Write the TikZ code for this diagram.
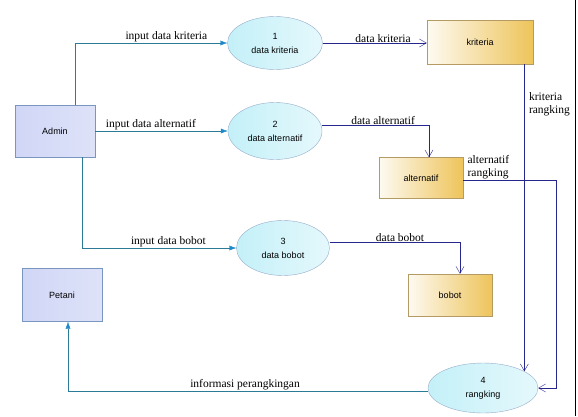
\documentclass[tikz,border=0pt]{standalone}
\usepackage{fontspec}
\setmainfont{Liberation Serif}
\setsansfont{Liberation Sans}
\usetikzlibrary{shapes.geometric,arrows.meta}

\definecolor{flowteal}{RGB}{42,122,152}
\definecolor{flowblue}{RGB}{30,136,200}
\definecolor{flownavy}{RGB}{38,38,140}
\definecolor{entfill}{RGB}{208,214,246}
\definecolor{entline}{RGB}{120,150,190}
\definecolor{procfill}{RGB}{196,240,248}
\definecolor{procline}{RGB}{150,172,200}
\definecolor{storegold}{RGB}{238,196,90}
\definecolor{storeline}{RGB}{180,155,100}

\begin{document}
\begin{tikzpicture}[x=1pt, y=-1pt,
    entity/.style={draw=entline, left color=entfill, right color=entfill!70,
      minimum width=80pt, minimum height=52pt, font=\sffamily\fontsize{9}{11}\selectfont},
    process/.style={ellipse, draw=procline, left color=procfill, right color=procfill!45,
      inner sep=0pt, align=center, font=\sffamily\fontsize{9}{14}\selectfont},
    store/.style={draw=storeline, left color=storegold!8, right color=storegold,
      font=\sffamily\fontsize{9}{11}\selectfont},
    inflow/.style={draw=flowteal, -{Latex[length=7pt,width=5pt,color=flowblue]}},
    dataflow/.style={draw=flownavy, -{Straight Barb[length=7pt,width=8pt]}},
    lbl/.style={font=\fontsize{11.5}{13}\selectfont, inner sep=0.5pt}]
      \useasboundingbox (0,0) rectangle (578,416);

      % external entities
      \node[entity] (admin) at (55,131) {Admin};
      \node[entity, minimum height=53pt] (petani) at (62,295) {Petani};

      % processes
      \node[process, minimum width=95pt, minimum height=53pt] (p1) at (275,43) {1\\data kriteria};
      \node[process, minimum width=94pt, minimum height=57pt] (p2) at (275,131) {2\\data alternatif};
      \node[process, minimum width=93pt, minimum height=55pt] (p3) at (283,248) {3\\data bobot};
      \node[process, minimum width=110pt, minimum height=50pt] (p4) at (483,388) {4\\rangking};

      % data stores
      \node[store, minimum width=106pt, minimum height=44pt] (kriteria) at (480,42) {kriteria};
      \node[store, minimum width=84pt, minimum height=41pt] (alternatif) at (421,178) {alternatif};
      \node[store, minimum width=84pt, minimum height=42pt] (bobot) at (450,295) {bobot};

      % flows
      \draw[inflow] ([xshift=20pt]admin.north) |- (p1.west) node[lbl, above, pos=0.8] {input data kriteria};
      \draw[inflow] (admin.east) -- (p2.west) node[lbl, above, pos=0.42] {input data alternatif};
      \draw[inflow] ([xshift=27pt]admin.south) |- (p3.west) node[lbl, above, pos=0.78] {input data bobot};
      \draw[inflow] ([yshift=-3pt]p4.west) -| ([xshift=6pt]petani.south) node[lbl, above, pos=0.254] {informasi perangkingan};

      \draw[dataflow] (p1.east) -- (p1.east -| kriteria.west) node[lbl, above, pos=0.58] {data kriteria};
      \draw[dataflow] ([yshift=6pt]p2.east) -| ([xshift=8pt]alternatif.north) node[lbl, above, pos=0.285] {data alternatif};
      \draw[dataflow] ([yshift=6pt]p3.east) -| ([xshift=10pt]bobot.north) node[lbl, above, pos=0.27] {data bobot};
      \draw[dataflow] (p4.22 |- kriteria.south) -- (p4.22) node[lbl, right, align=left, pos=0.13, xshift=4pt] {kriteria\\rangking};
      \draw[dataflow] ([yshift=-2pt]alternatif.east) -| ([xshift=18pt]p4.east)
        node[lbl, above right, align=left, pos=0.02] {alternatif\\rangking} -- (p4.east);

      \draw[line width=1.2pt] (575.5,0) -- (575.5,416);
    \end{tikzpicture}
\end{document}
